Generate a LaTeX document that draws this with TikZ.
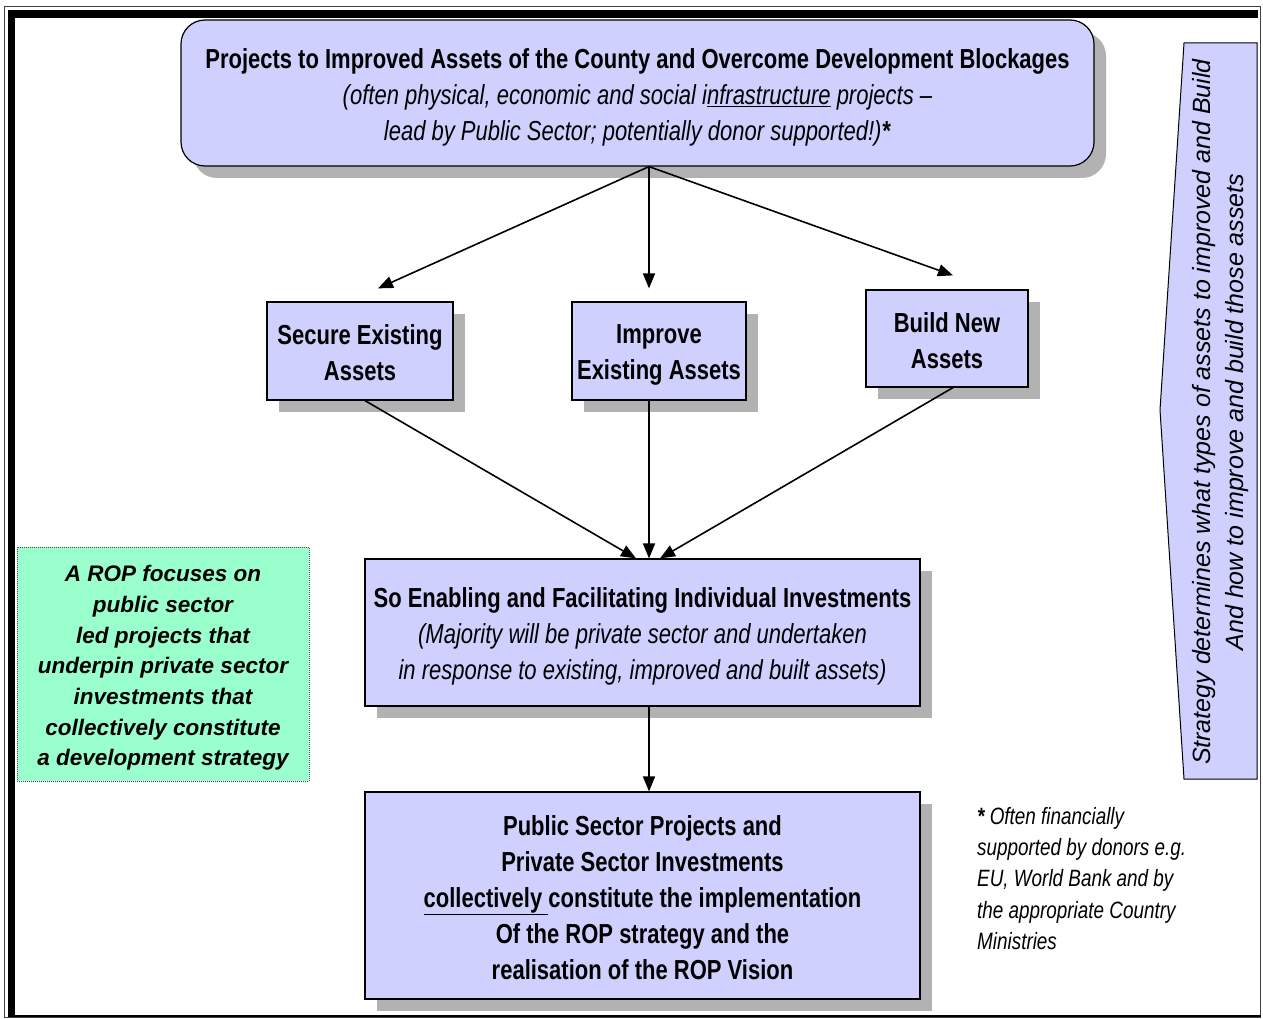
\documentclass[tikz,border=0pt]{standalone}
\usepackage{fontspec}
\setmainfont{Liberation Sans}
\newfontfamily\nf[FakeStretch=0.80]{Liberation Sans}
\usetikzlibrary{arrows.meta,shadows,calc}
\definecolor{lav}{RGB}{208,208,255}
\definecolor{mint}{RGB}{153,255,204}
\definecolor{shad}{RGB}{178,178,178}
\tikzset{
  shd/.style={drop shadow={shadow xshift=12pt, shadow yshift=-12pt, fill=shad, opacity=1}},
  pbox/.style={draw=black, line width=1.2pt, fill=lav, shd, inner sep=0pt},
  tx/.style={align=center, inner sep=0pt, font=\nf\fontsize{27.5}{36}\selectfont},
  arr/.style={-{Triangle[length=15pt,width=12pt]}, line width=1.6pt},
}
\begin{document}
\begin{tikzpicture}[x=1pt,y=-1pt]
\useasboundingbox (0,0) rectangle (1263,1019);
% frame
\draw[line width=1pt, black!75] (4.5,6.5) rectangle (1260.5,1017);
\fill[black] (8,10) rectangle (15,1017);
\fill[black] (8,10) rectangle (1258,18);
\draw[line width=2.5pt] (8,1016) -- (1261,1016);

% boxes
\node[pbox, rounded corners=24pt, minimum width=913pt, minimum height=146pt] (top) at (637.5,93) {};
\node[pbox, minimum width=186pt, minimum height=98pt] (secure) at (360,351) {};
\node[pbox, minimum width=174pt, minimum height=98pt] (improve) at (659,351) {};
\node[pbox, minimum width=162pt, minimum height=97pt] (build) at (947,338.5) {};
\node[pbox, minimum width=555pt, minimum height=147pt] (enable) at (642.5,632.5) {};
\node[pbox, minimum width=555pt, minimum height=207pt] (final) at (642.5,895.5) {};

% box texts
\node[tx] (toptext) at ([yshift=-4pt]top.center)
 {\textbf{Projects to Improved Assets of the County and Overcome Development Blockages}\\
  \textit{(often physical, economic and social i\underline{nfrastructure} projects –}\\
  \textit{lead by Public Sector; potentially donor supported!)\textbf{*}}};
\node[tx] (securetext) at ([yshift=-2pt]secure.center) {\textbf{Secure Existing}\\\textbf{Assets}};
\node[tx] (improvetext) at ([yshift=-4pt]improve.center) {\textbf{Improve}\\\textbf{Existing Assets}};
\node[tx] (buildtext) at ([yshift=-2pt]build.center) {\textbf{Build New}\\\textbf{Assets}};
\node[tx] (enabletext) at ([yshift=-4pt]enable.center)
 {\textbf{So Enabling and Facilitating Individual Investments}\\
  \textit{(Majority will be private sector and undertaken}\\
  \textit{in response to existing, improved and built assets)}};
\node[tx] (finaltext) at ([yshift=-2pt]final.center)
 {\textbf{Public Sector Projects and}\\
  \textbf{Private Sector Investments}\\
  \textbf{\underline{collectively\ }constitute the implementation}\\
  \textbf{Of the ROP strategy and the}\\
  \textbf{realisation of the ROP Vision}};

% green note
\node[draw=black!70, densely dotted, line width=1pt, fill=mint, minimum width=292pt, minimum height=234pt,
  inner sep=0pt] (note) at (163,664) {};
\node[align=center, inner sep=0pt, font=\fontsize{22.5}{30.7}\selectfont\bfseries\itshape] (notetext)
  at ([yshift=-4pt]note.center)
 {A ROP focuses on\\public sector\\led projects that\\underpin private sector\\investments that\\collectively constitute\\a development strategy};

% strategy bracket
\draw[line width=1pt, fill=lav] (1184,43) -- (1257,43) -- (1257,779) -- (1184,779) -- (1160,410) -- cycle;
\node[rotate=90, align=center, inner sep=0pt, font=\fontsize{25}{33}\selectfont\itshape] (strat) at (1221,412)
 {Strategy determines what types of assets to improved and Build\\And how to improve and build those assets};

% footnote
\node[anchor=north west, align=left, inner sep=0pt, font=\nf\fontsize{23.6}{31.3}\selectfont\itshape] (foot) at (977,807)
 {\textbf{*} Often financially\\supported by donors e.g.\\EU, World Bank and by\\the appropriate Country\\Ministries};

% connectors
\draw[arr] ([xshift=11.5pt]top.south) -- ([shift={(18pt,13pt)}]secure.north);
\draw[arr] ([xshift=11.5pt]top.south) -- ([shift={(-10pt,13pt)}]improve.north);
\draw[arr] ([xshift=11.5pt]top.south) -- ([shift={(6pt,14pt)}]build.north);
\draw[arr] ([xshift=5pt]secure.south) -- ([xshift=-6.5pt]enable.north);
\draw[arr] ([xshift=-10pt]improve.south) -- ([xshift=6.5pt]enable.north);
\draw[arr] ([xshift=6pt]build.south) -- ([xshift=17.5pt]enable.north);
\draw[arr] ([xshift=6.5pt]enable.south) -- ([xshift=6.5pt]final.north);
\end{tikzpicture}
\end{document}
